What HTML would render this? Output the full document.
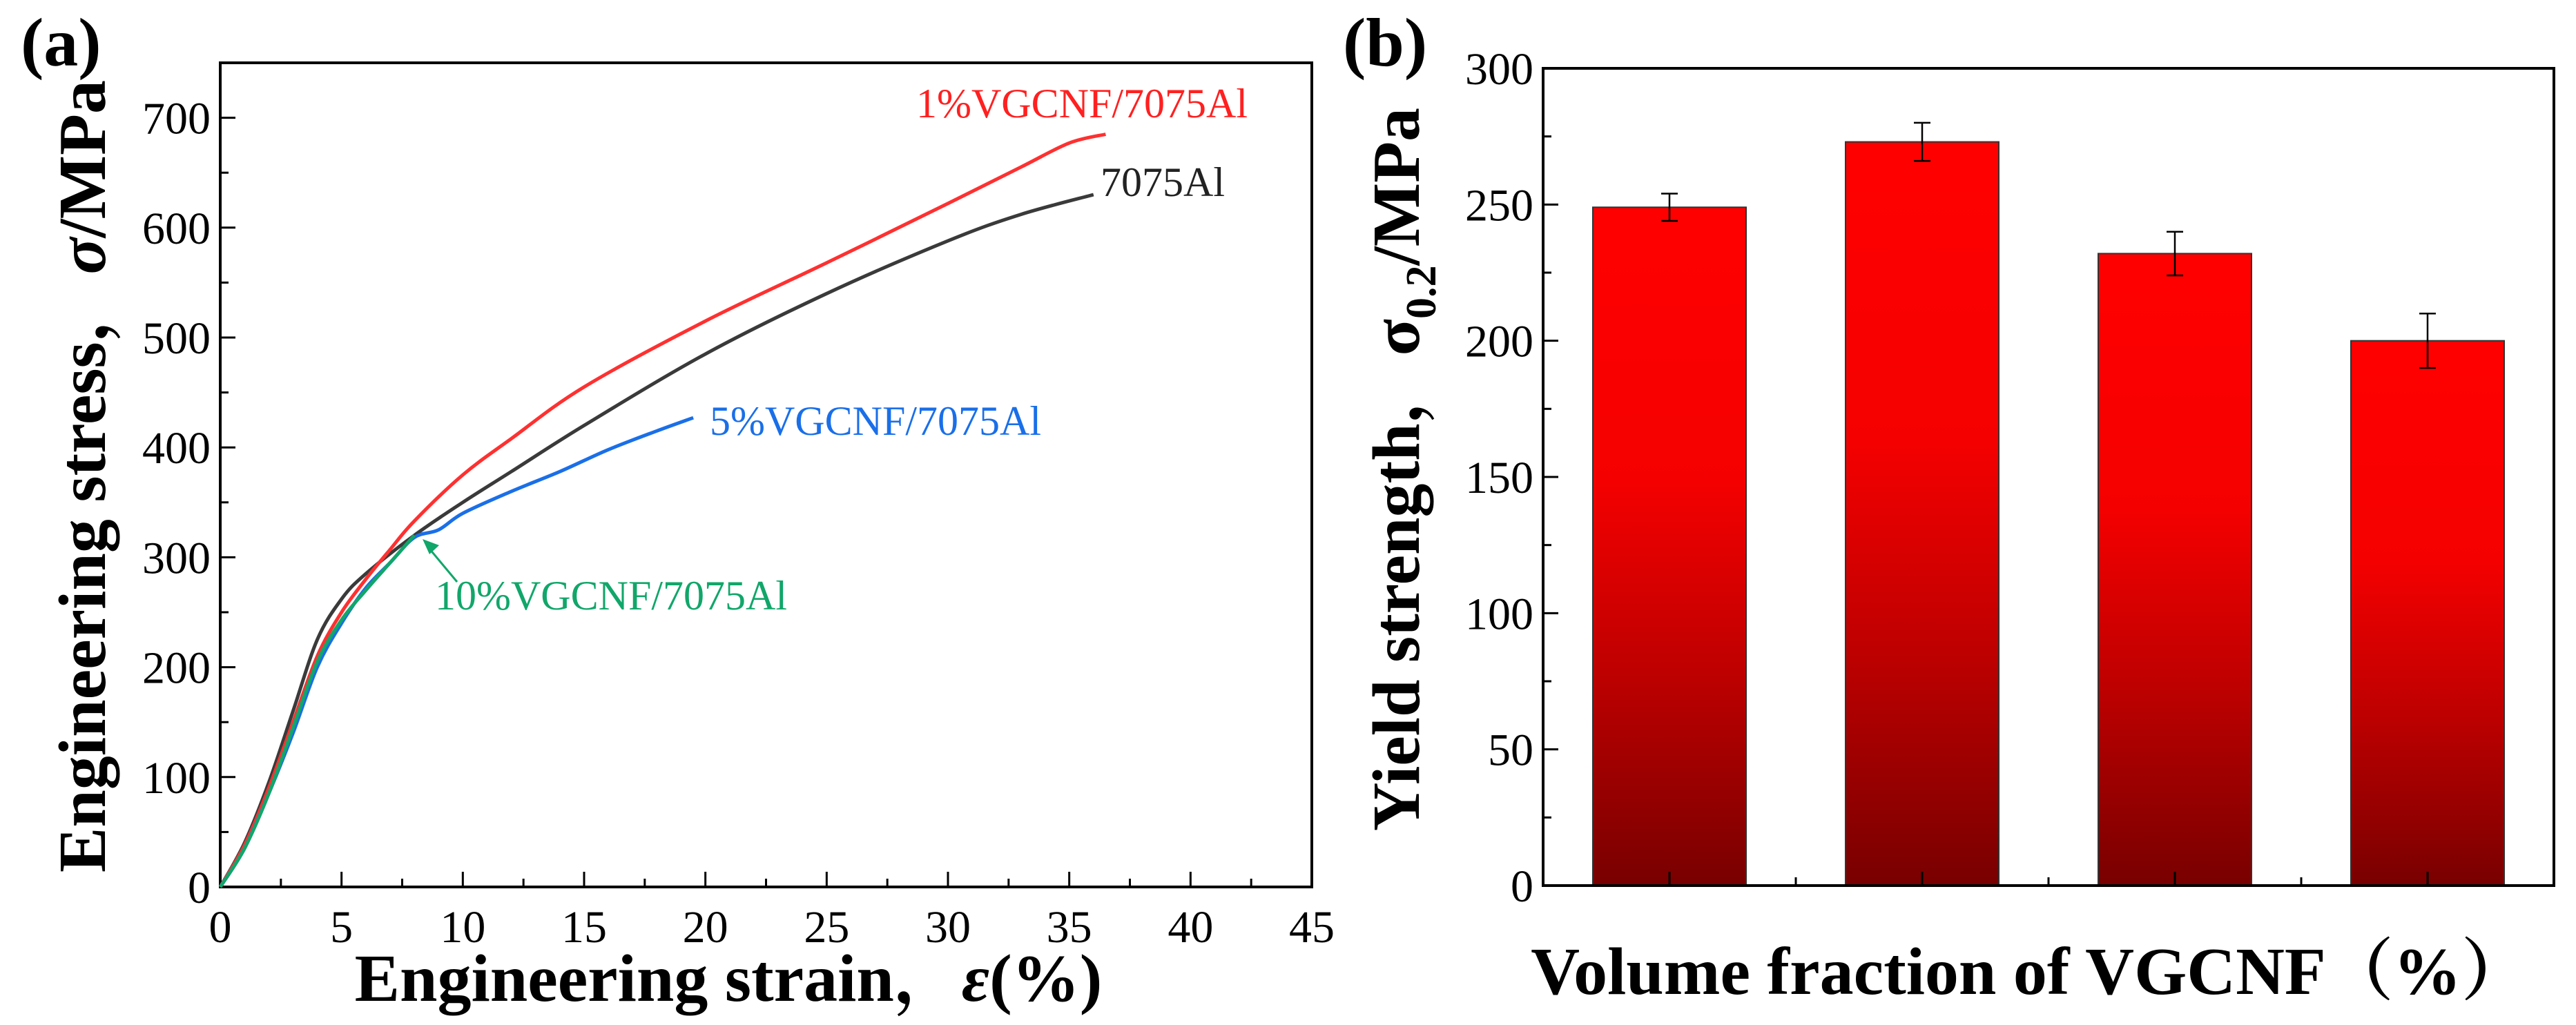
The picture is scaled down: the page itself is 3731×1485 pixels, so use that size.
<!DOCTYPE html>
<html><head><meta charset="utf-8"><style>
html,body{margin:0;padding:0;background:#fff;}
svg{display:block;}
svg text{font-family:"Liberation Serif","Noto Serif CJK SC",serif;}
</style></head><body>
<svg id="fig" width="3731" height="1485" viewBox="0 0 3731 1485" xmlns="http://www.w3.org/2000/svg" font-family="Liberation Serif, Noto Serif CJK SC, serif">
<g id="pa"></g>
<g id="pb"></g>
</svg>
<script>
// ---- panel (a) data ----
const xTicksA = [0,5,10,15,20,25,30,35,40,45];
const yTicksA = [0,100,200,300,400,500,600,700];
const s7075X = [0,1,2,3,4,5,6,8,10,12,15,20,25,30,33,36];
const s7075Y = [0,40,95,160,225,262,285,320,350,378,420,485,540,588,612,630];
const s1X = [0,1,2,3,4,5,6,7,8,10,12,15,20,25,30,33,35,36.5];
const s1Y = [0,38,90,150,210,250,280,307,333,375,408,455,515,568,622,655,677,685];
const s5X = [0,1,2,3,4,5,6,7,8,9,10,12,14,16,18,19.5];
const s5Y = [0,35,85,140,200,240,272,295,318,325,340,360,378,398,415,427];
const s10X = [0,1,2,3,4,5,6,7,8];
const s10Y = [0,35,85,145,205,243,270,295,320];
// ---- panel (b) data ----
const catsB = ["0","1","5","10"];
const valsB = [249,273,232,200];
const errsB = [5,7,8,10];
const yTicksB = [0,50,100,150,200,250,300];

const NS="http://www.w3.org/2000/svg";
function mk(parent,tag,attrs,text){const e=document.createElementNS(NS,tag);for(const k in attrs)e.setAttribute(k,attrs[k]);if(text!==undefined)e.textContent=text;parent.appendChild(e);return e;}
const SERIF='Liberation Serif, Noto Serif CJK SC, serif';

// ---------- Panel A ----------
const pa=document.getElementById('pa');
const AL=319,AR=1900,AT=91,AB=1285;
const ax=v=>AL+(v-0)/(45-0)*(AR-AL);
const ay=v=>AB-(v-0)/(750-0)*(AB-AT);
let e;
e=mk(pa,'rect',{x:AL,y:AT,width:AR-AL,height:AB-AT,fill:'none',stroke:'#000','stroke-width':4});


for(let v=0;v<=45;v+=2.5){const maj=Math.abs(v%5)<1e-9;e=mk(pa,'line',{x1:ax(v),x2:ax(v),y1:AB,y2:AB-(maj?22:12),stroke:'#000','stroke-width':3});

}
xTicksA.forEach(v=>{e=mk(pa,'text',{x:ax(v),y:AB+80,'font-size':66,'text-anchor':'middle','font-family':SERIF},String(v));

});
for(let v=0;v<=750;v+=50){const maj=v%100===0;e=mk(pa,'line',{x1:AL,x2:AL+(maj?22:12),y1:ay(v),y2:ay(v),stroke:'#000','stroke-width':3});

}
yTicksA.forEach(v=>{e=mk(pa,'text',{x:AL-14,y:ay(v)+23,'font-size':66,'text-anchor':'end','font-family':SERIF},String(v));

});
function smoothPath(xs,ys){
  const P=xs.map((x,i)=>[ax(x),ay(ys[i])]);
  let d='M'+P[0][0].toFixed(1)+','+P[0][1].toFixed(1);
  for(let i=0;i<P.length-1;i++){
    const p0=P[Math.max(0,i-1)],p1=P[i],p2=P[i+1],p3=P[Math.min(P.length-1,i+2)];
    const c1=[p1[0]+(p2[0]-p0[0])/6,p1[1]+(p2[1]-p0[1])/6];
    const c2=[p2[0]-(p3[0]-p1[0])/6,p2[1]-(p3[1]-p1[1])/6];
    d+=` C${c1[0].toFixed(1)},${c1[1].toFixed(1)} ${c2[0].toFixed(1)},${c2[1].toFixed(1)} ${p2[0].toFixed(1)},${p2[1].toFixed(1)}`;
  }
  return d;
}
function curve(xs,ys,color,name){
const p=mk(pa,'path',{d:smoothPath(xs,ys),fill:'none',stroke:color,'stroke-width':5,'stroke-linejoin':'round'});

}
curve(s7075X,s7075Y,'#3a3a3a','curve-7075al');
curve(s1X,s1Y,'#ff3030','curve-1pct-vgcnf');
curve(s5X,s5Y,'#1a6fe8','curve-5pct-vgcnf');
curve(s10X,s10Y,'#11a66a','curve-10pct-vgcnf');
function lab(x,y,t,c,n){const q=mk(pa,'text',{x:x,y:y,'font-size':60,fill:c,'font-family':SERIF},t);

}
lab(1327,170,'1%VGCNF/7075Al','#ff2020','label-1pct');
lab(1594,284,'7075Al','#222','label-7075al');
lab(1028,630,'5%VGCNF/7075Al','#1a6fe8','label-5pct');
lab(630,883,'10%VGCNF/7075Al','#11a66a','label-10pct');
e=mk(pa,'line',{x1:662,y1:843,x2:622,y2:795,stroke:'#11a66a','stroke-width':3});


e=mk(pa,'polygon',{points:'612,781 636,790 622,803',fill:'#11a66a'});


e=mk(pa,'text',{x:30,y:95,'font-size':100,'font-weight':'bold','font-family':SERIF},'(a)');


e=mk(pa,'text',{x:0,y:0,'font-size':98,'font-weight':'bold','text-anchor':'middle','font-family':SERIF,transform:'translate(152,690) rotate(-90)'});


e.innerHTML='Engineering stress，<tspan font-style="italic">σ</tspan>/MPa';
e=mk(pa,'text',{x:1055,y:1450,'font-size':98,'font-weight':'bold','text-anchor':'middle','font-family':SERIF});


e.innerHTML='Engineering strain，<tspan font-style="italic">ε</tspan>(%)';

// ---------- Panel B ----------
const pb=document.getElementById('pb');
const BL=2235,BR=3699,BT=99,BB=1283;
const bx=i=>BL+(i+0.5)*(BR-BL)/catsB.length;
const by=v=>BB-v/300*(BB-BT);
const defs=mk(pb,'defs',{});
const g=mk(defs,'linearGradient',{id:'barg',x1:0,y1:0,x2:0,y2:1});
mk(g,'stop',{offset:'0','stop-color':'#ff0000'});
mk(g,'stop',{offset:'0.4','stop-color':'#f50000'});
mk(g,'stop',{offset:'0.7','stop-color':'#bb0000'});
mk(g,'stop',{offset:'1','stop-color':'#780000'});
const bw=222;
valsB.forEach((v,i)=>{
 e=mk(pb,'rect',{x:bx(i)-bw/2,y:by(v),width:bw,height:BB-by(v),fill:'url(#barg)',stroke:'#333','stroke-width':2});
 
 
 const hi=by(v+errsB[i]),lo=by(v-errsB[i]);
 e=mk(pb,'path',{d:`M${bx(i)},${hi}V${lo}M${bx(i)-12},${hi}H${bx(i)+12}M${bx(i)-12},${lo}H${bx(i)+12}`,stroke:'#000','stroke-width':2.5,fill:'none'});
 
 
});
e=mk(pb,'rect',{x:BL,y:BT,width:BR-BL,height:BB-BT,fill:'none',stroke:'#000','stroke-width':4});


for(let v=0;v<=300;v+=25){const maj=v%50===0;e=mk(pb,'line',{x1:BL,x2:BL+(maj?22:12),y1:by(v),y2:by(v),stroke:'#000','stroke-width':3});

}
yTicksB.forEach(v=>{e=mk(pb,'text',{x:BL-14,y:by(v)+23,'font-size':66,'text-anchor':'end','font-family':SERIF},String(v));

});
for(let i=0;i<catsB.length;i++){e=mk(pb,'line',{x1:bx(i),x2:bx(i),y1:BB,y2:BB-20,stroke:'#000','stroke-width':3});


if(i>0){e=mk(pb,'line',{x1:bx(i)-(BR-BL)/8,x2:bx(i)-(BR-BL)/8,y1:BB,y2:BB-12,stroke:'#000','stroke-width':3});

}}
e=mk(pb,'text',{x:1945,y:95,'font-size':100,'font-weight':'bold','font-family':SERIF},'(b)');


e=mk(pb,'text',{x:0,y:0,'font-size':98,'font-weight':'bold','text-anchor':'middle','font-family':SERIF,transform:'translate(2055,680) rotate(-90)'});


e.innerHTML='Yield strength，σ<tspan font-size="62" dy="24">0.2</tspan><tspan dy="-24">/MPa</tspan>';
e=mk(pb,'text',{x:2940,y:1440,'font-size':98,'font-weight':'bold','text-anchor':'middle','font-family':SERIF},'Volume fraction of VGCNF（%）');


</script>
</body></html>
